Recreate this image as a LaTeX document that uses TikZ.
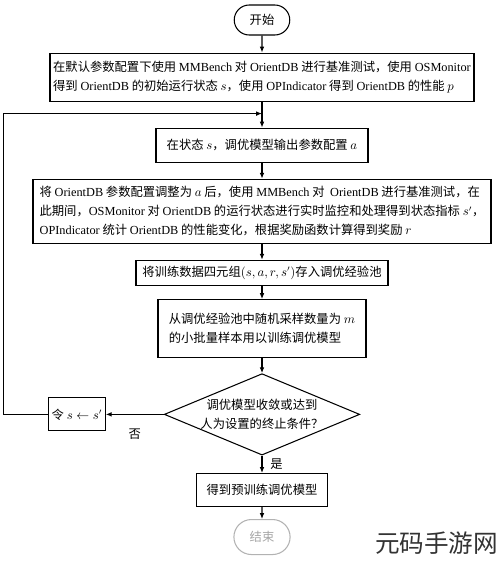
\documentclass[tikz,border=0pt]{standalone}
\usepackage{fontspec}
\setmainfont{Noto Sans CJK SC}
\newfontfamily\enf{Liberation Serif}
\usepackage{tikz}
\usetikzlibrary{arrows.meta,positioning,shapes.geometric,shapes.misc}

\begin{document}
\begin{tikzpicture}[
      font=\fontsize{10.5}{16}\selectfont,
      box/.style={draw, line width=0.9pt, align=left, inner sep=2pt},
      term/.style={draw, line width=0.9pt, rounded rectangle, minimum width=1.9cm,
                   minimum height=0.9cm},
      decide/.style={draw, line width=0.9pt, diamond, aspect=2.4, inner sep=0pt,
                     minimum width=5.7cm, minimum height=2.34cm, align=center},
      arr/.style={-{Latex[length=5pt,width=4pt]}, line width=0.9pt}
    ]
    \useasboundingbox (0,0) rectangle (15,-16.89);

    % main column
    \node[term] (start) at (7.86,-0.6) {开始};
    \node[box, minimum width=12.72cm, minimum height=1.44cm] (init) [below=0.51cm of start]
      {在默认参数配置下使用 {\enf MMBench} 对 {\enf OrientDB} 进行基准测试，使用 {\enf OSMonitor}\\
       得到 {\enf OrientDB} 的初始运行状态 $s$，使用 {\enf OPIndicator} 得到 {\enf OrientDB} 的性能 $p$};
    \node[box, minimum width=6.36cm, minimum height=1.02cm] (state) [below=0.78cm of init]
      {在状态 $s$，调优模型输出参数配置 $a$};
    \node[box, minimum width=13.74cm, minimum height=1.92cm] (run) [below=0.48cm of state]
      {将 {\enf OrientDB} 参数配置调整为 $a$ 后，使用 {\enf MMBench} 对\ \ {\enf OrientDB} 进行基准测试，在\\
       此期间，{\enf OSMonitor} 对 {\enf OrientDB} 的运行状态进行实时监控和处理得到状态指标 $s'$，\\
       {\enf OPIndicator} 统计 {\enf OrientDB} 的性能变化，根据奖励函数计算得到奖励 $r$};
    \node[box, minimum width=7.56cm, minimum height=0.75cm] (store) [below=0.48cm of run]
      {将训练数据四元组$(s,a,r,s')$存入调优经验池};
    \node[box, minimum width=6.24cm, minimum height=1.74cm] (train) [below=0.4cm of store]
      {从调优经验池中随机采样数量为 $m$\\的小批量样本用以训练调优模型};
    \node[decide] (dec) [below=0.45cm of train] {调优模型收敛或达到\\人为设置的终止条件？};
    \node[box, minimum width=3.93cm, minimum height=0.99cm] (final) [below=0.52cm of dec]
      {得到预训练调优模型};
    \node[term, draw=gray!60, text=gray!70, minimum width=1.92cm, minimum height=1.05cm]
      (end) [below=0.36cm of final] {结束};

    % loop back
    \node[box, minimum width=1.7cm, minimum height=0.99cm] (upd) [left=1.74cm of dec]
      {令 $s\leftarrow s'$};
    \coordinate[below=0.36cm of init] (merge);
    \coordinate (edge) at (0.1,0);

    \draw[arr] (start) -- (init);
    \draw[arr] (init)  -- (state);
    \draw[arr] (state) -- (run);
    \draw[arr] (run)   -- (store);
    \draw[arr] (store) -- (train);
    \draw[arr] (train) -- (dec);
    \draw[arr] (dec)   -- node[right=0.12cm] {是} (final);
    \draw[arr] (final) -- (end);
    \draw[arr] (dec)   -- node[below=0.3cm] {否} (upd);
    \draw[arr] (upd.west) -- (upd.west -| edge) |- (merge);

    \node[font=\fontsize{21}{21}\selectfont, text=black!80] (mark) at (13.1,-16.3) {元码手游网};
  \end{tikzpicture}
\end{document}
